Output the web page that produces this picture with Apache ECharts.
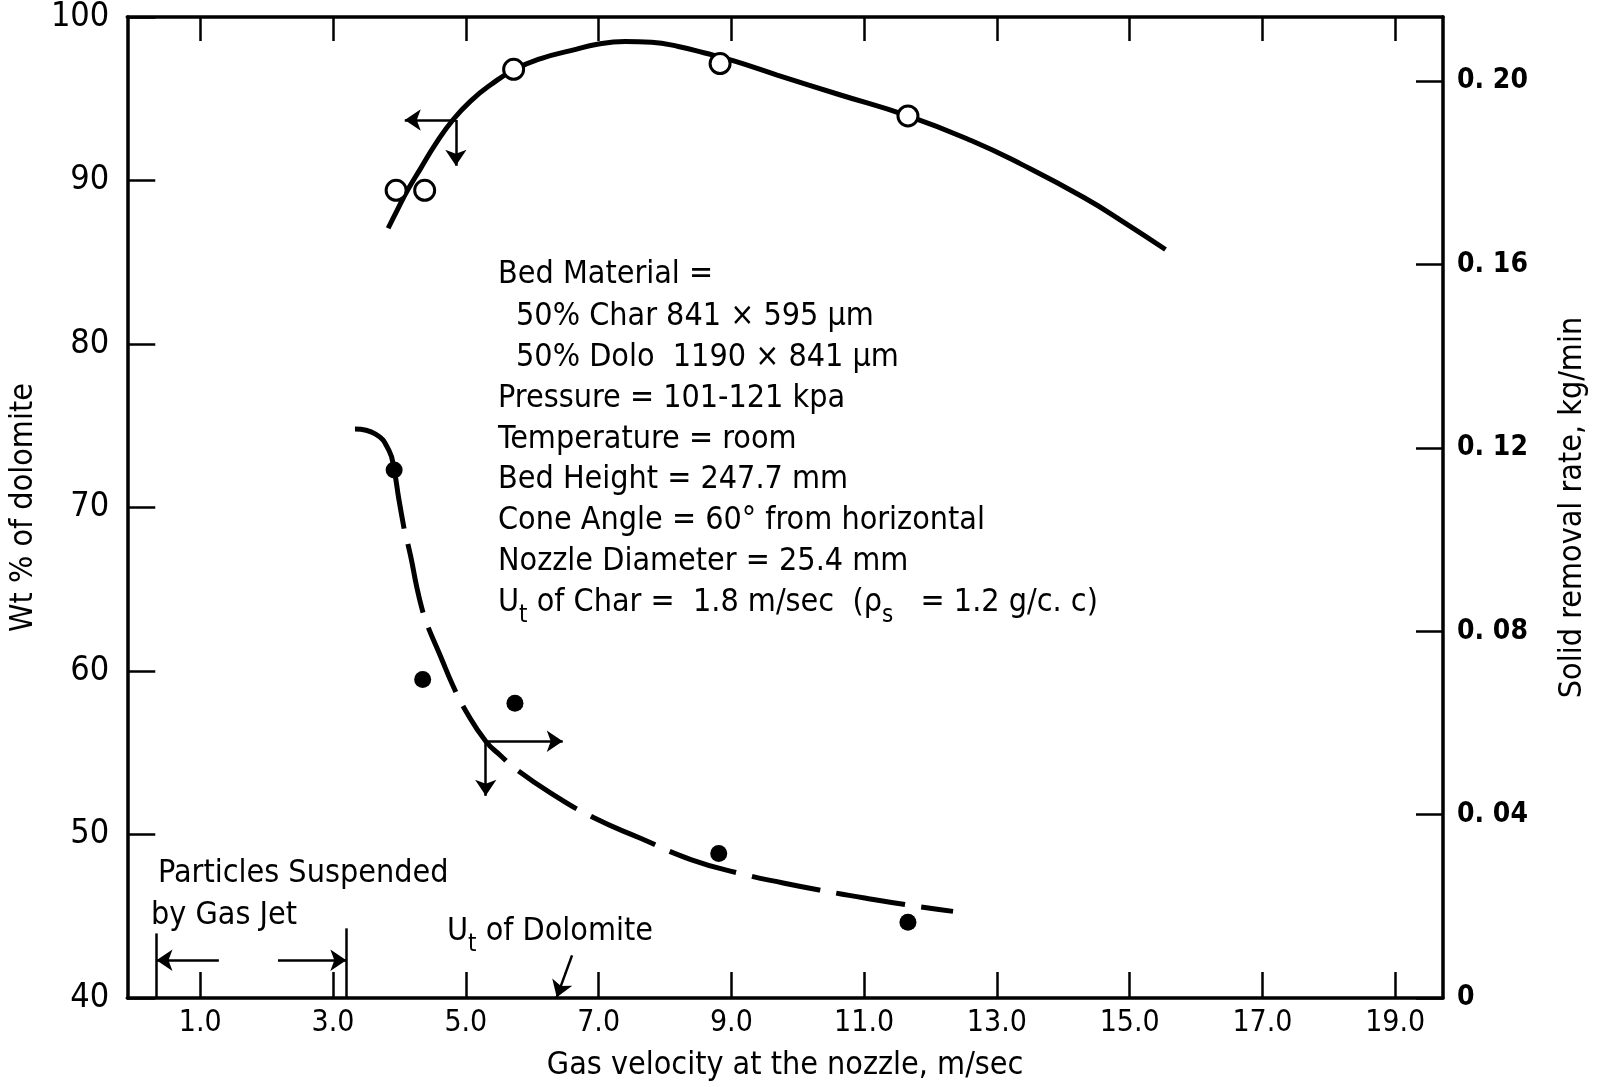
<!DOCTYPE html>
<html><head><meta charset="utf-8">
<script src="https://cdn.jsdelivr.net/npm/echarts@6/dist/echarts.min.js"></script>
<style>html,body{margin:0;padding:0;background:#fff}#c{width:1603px;height:1087px}</style>
</head><body><div id="c"></div>
<script>
// ---------- data ----------
const xTicks = [1, 3, 5, 7, 9, 11, 13, 15, 17, 19];
const rightTicks = [0, 0.04, 0.08, 0.12, 0.16, 0.20];
const rightTickLabels = ['0', '0. 04', '0. 08', '0. 12', '0. 16', '0. 20'];

// Wt % of dolomite (open circles, left axis)
const upperPointsX = [3.95, 4.38, 5.72, 8.83, 11.66];
const upperPointsY = [89.4, 89.4, 96.8, 97.15, 93.95];
const upperCurveX = [3.83, 3.98, 4.13, 4.32, 4.55, 4.81, 5.08, 5.38, 5.73, 6.13, 6.58, 7.00, 7.40, 7.80, 8.20, 8.60, 9.05, 9.69, 10.62, 11.66, 12.62, 13.38, 14.31, 14.92, 15.54];
const upperCurveY = [87.08, 88.30, 89.46, 90.74, 92.27, 93.73, 94.89, 95.87, 96.78, 97.46, 97.94, 98.35, 98.50, 98.45, 98.20, 97.80, 97.30, 96.45, 95.26, 93.95, 92.43, 90.97, 88.96, 87.43, 85.78];

// Solid removal rate, kg/min (filled dots, right axis)
const lowerPointsX = [3.92, 4.35, 5.74, 8.81, 11.66];
const lowerPointsY = [0.1152, 0.0695, 0.0643, 0.0315, 0.0165];
const lowerSolidX = [3.33, 3.64, 3.84, 3.92, 3.99, 4.07];
const lowerSolidY = [0.1241, 0.1230, 0.1195, 0.1152, 0.1089, 0.1024];
const lowerDashX = [4.07, 4.17, 4.26, 4.34, 4.41, 4.62, 4.81, 5.00, 5.30, 5.53, 5.73, 6.28, 6.93, 7.64, 8.39, 9.15, 9.78, 10.50, 11.01, 11.70, 12.34];
const lowerDashY = [0.1024, 0.0963, 0.0897, 0.0849, 0.0817, 0.0745, 0.0680, 0.0626, 0.0560, 0.0528, 0.0502, 0.0447, 0.0393, 0.0348, 0.0302, 0.0271, 0.0251, 0.0231, 0.0218, 0.0202, 0.0189];

// annotation arrows (data coordinates)
const upperArrowOrigin = [4.85, 93.7];
const upperArrowLeftTip = [4.08, 93.7];
const upperArrowDownTip = [4.85, 90.9];
const lowerArrowOrigin = [5.30, 0.0560];
const lowerArrowRightTip = [6.46, 0.0560];
const lowerArrowDownTip = [5.30, 0.0441];
const suspendedBarX = [0.34, 3.20];
const suspendedBarTop = [43.95, 44.26];
const suspendedArrowY = 42.31;
const suspendedArrowFromX = [1.28, 2.17];
const dolomiteArrowFrom = [6.60, 42.61];
const dolomiteArrowTo = [6.37, 40.05];

// texts
const xTitle = 'Gas velocity at the nozzle, m/sec';
const yLeftTitle = 'Wt % of dolomite';
const yRightTitle = 'Solid removal rate, kg/min';
const infoLines = [
  [['Bed Material =']],
  [['50% Char 841 × 595 μm']],
  [['50% Dolo  1190 × 841 μm']],
  [['Pressure = 101-121 kpa']],
  [['Temperature = room']],
  [['Bed Height = 247.7 mm']],
  [['Cone Angle = 60° from horizontal']],
  [['Nozzle Diameter = 25.4 mm']],
  [['U'], ['t', 'sub'], [' of Char =  1.8 m/sec  (ρ'], ['s', 'sub'], ['   = 1.2 g/c. c)']]
];
const suspendedText = ['Particles Suspended', 'by Gas Jet'];
const dolomiteText = [['U'], ['t', 'sub'], [' of Dolomite']];

// ---------- chart ----------
const FF = '"Liberation Sans Narrow", "DejaVu Sans Condensed", "Arial Narrow", sans-serif';
const pair = (xs, ys) => xs.map((x, i) => [x, ys[i]]);
const ctx = document.createElement('canvas').getContext('2d');
function tw(str, size) { ctx.font = size + 'px ' + FF; return ctx.measureText(str).width; }

function richLine(segs, x0, y0, size, subSize, subDy) {
  const out = [];
  let x = x0;
  segs.forEach(s => {
    const isSub = s[1] === 'sub';
    const sz = isSub ? subSize : size;
    out.push({ type: 'text', x: x, y: y0 + (isSub ? subDy : 0), silent: true,
      style: { text: s[0], font: sz + 'px ' + FF, fill: '#000', verticalAlign: 'middle', align: 'left' } });
    x += tw(s[0], sz);
  });
  return out;
}

const TXT = 32;
const graphics = [];
const lineYs = [275, 317, 358, 399, 440, 480, 521, 562, 603];
infoLines.forEach((segs, i) => {
  const x0 = (i === 1 || i === 2) ? 516 : 498;
  graphics.push(...richLine(segs, x0, lineYs[i], TXT, 24, 13));
});
graphics.push(...richLine([[suspendedText[0]]], 158, 874, TXT, 24, 0));
graphics.push(...richLine([[suspendedText[1]]], 151, 916, TXT, 24, 0));
graphics.push(...richLine(dolomiteText, 447, 932, TXT, 24, 13));

const axisLineStyle = { color: '#000', width: 3.5 };
const tickStyle = { color: '#000', width: 2.5 };

const option = {
  animation: false,
  backgroundColor: '#fff',
  grid: { left: 126, right: 160, top: 14, bottom: 89, containLabel: false },
  xAxis: [
    { type: 'value', position: 'bottom', min: -0.1, max: 19.72,
      axisLine: { onZero: false, lineStyle: axisLineStyle },
      axisTick: { inside: true, length: 26, customValues: xTicks, lineStyle: tickStyle },
      axisLabel: { customValues: xTicks, formatter: v => v.toFixed(1), color: '#000', fontSize: 30, fontFamily: FF, margin: 10 },
      splitLine: { show: false },
      name: xTitle, nameLocation: 'middle', nameGap: 52,
      nameTextStyle: { color: '#000', fontSize: 32, fontFamily: FF } },
    { type: 'value', position: 'top', min: -0.1, max: 19.72,
      axisLine: { onZero: false, lineStyle: axisLineStyle },
      axisTick: { inside: true, length: 24, customValues: xTicks, lineStyle: tickStyle },
      axisLabel: { show: false }, splitLine: { show: false } }
  ],
  yAxis: [
    { type: 'value', position: 'left', min: 40, max: 100, interval: 10,
      axisLine: { onZero: false, lineStyle: axisLineStyle },
      axisTick: { inside: true, length: 28, lineStyle: tickStyle },
      axisLabel: { color: '#000', fontSize: 34, fontFamily: FF, margin: 18 },
      splitLine: { show: false },
      name: yLeftTitle, nameLocation: 'middle', nameGap: 60, nameRotate: 90,
      nameTextStyle: { color: '#000', fontSize: 32, fontFamily: FF } },
    { type: 'value', position: 'right', min: 0, max: 0.214, interval: 0.04,
      axisLine: { onZero: false, lineStyle: axisLineStyle },
      axisTick: { inside: true, length: 27, lineStyle: tickStyle },
      axisLabel: { formatter: v => { const k = rightTicks.findIndex(t => Math.abs(t - v) < 1e-6); return k < 0 ? '' : rightTickLabels[k]; },
        showMaxLabel: false,
        color: '#000', fontSize: 28, fontWeight: 'bold', fontFamily: FF, margin: 14 },
      splitLine: { show: false },
      name: yRightTitle, nameLocation: 'middle', nameGap: 114, nameRotate: 90,
      nameTextStyle: { color: '#000', fontSize: 32, fontFamily: FF } }
  ],
  series: [
    { type: 'line', name: 'upperCurve', xAxisIndex: 0, yAxisIndex: 0, data: pair(upperCurveX, upperCurveY),
      smooth: 0.5, showSymbol: false, symbol: 'none', lineStyle: { color: '#000', width: 5 }, z: 2, silent: true },
    { type: 'scatter', name: 'upperPoints', xAxisIndex: 0, yAxisIndex: 0, data: pair(upperPointsX, upperPointsY),
      symbol: 'circle', symbolSize: 20, itemStyle: { color: '#fff', borderColor: '#000', borderWidth: 3, opacity: 1 }, z: 5, silent: true,
      markLine: { silent: true, symbol: ['none', 'arrow'], symbolSize: 16, animation: false,
        lineStyle: { color: '#000', width: 2.5, type: 'solid', opacity: 1 }, label: { show: false }, emphasis: { disabled: true },
        data: [
          [{ coord: upperArrowOrigin }, { coord: upperArrowLeftTip }],
          [{ coord: upperArrowOrigin }, { coord: upperArrowDownTip }],
          [{ coord: [suspendedBarX[0], 40], symbol: 'none' }, { coord: [suspendedBarX[0], suspendedBarTop[0]], symbol: 'none' }],
          [{ coord: [suspendedBarX[1], 40], symbol: 'none' }, { coord: [suspendedBarX[1], suspendedBarTop[1]], symbol: 'none' }],
          [{ coord: [suspendedArrowFromX[0], suspendedArrowY] }, { coord: [suspendedBarX[0], suspendedArrowY] }],
          [{ coord: [suspendedArrowFromX[1], suspendedArrowY] }, { coord: [suspendedBarX[1], suspendedArrowY] }],
          [{ coord: dolomiteArrowFrom }, { coord: dolomiteArrowTo }]
        ] } },
    { type: 'line', name: 'lowerSolid', xAxisIndex: 0, yAxisIndex: 1, data: pair(lowerSolidX, lowerSolidY),
      smooth: 0.5, showSymbol: false, symbol: 'none', lineStyle: { color: '#000', width: 5 }, z: 2, silent: true },
    { type: 'line', name: 'lowerDash', xAxisIndex: 0, yAxisIndex: 1, data: pair(lowerDashX, lowerDashY),
      smooth: 0.5, showSymbol: false, symbol: 'none', lineStyle: { color: '#000', width: 5, type: [70, 16], dashOffset: 70, cap: 'butt' }, z: 2, silent: true },
    { type: 'scatter', name: 'lowerPoints', xAxisIndex: 0, yAxisIndex: 1, data: pair(lowerPointsX, lowerPointsY),
      symbol: 'circle', symbolSize: 17, itemStyle: { color: '#000', opacity: 1 }, z: 5, silent: true,
      markLine: { silent: true, symbol: ['none', 'arrow'], symbolSize: 16, animation: false,
        lineStyle: { color: '#000', width: 2.5, type: 'solid', opacity: 1 }, label: { show: false }, emphasis: { disabled: true },
        data: [
          [{ coord: lowerArrowOrigin }, { coord: lowerArrowRightTip }],
          [{ coord: lowerArrowOrigin }, { coord: lowerArrowDownTip }]
        ] } }
  ],
  graphic: graphics
};

const chart = echarts.init(document.getElementById('c'), null, { renderer: 'canvas' });
chart.setOption(option);
</script>
</body></html>
